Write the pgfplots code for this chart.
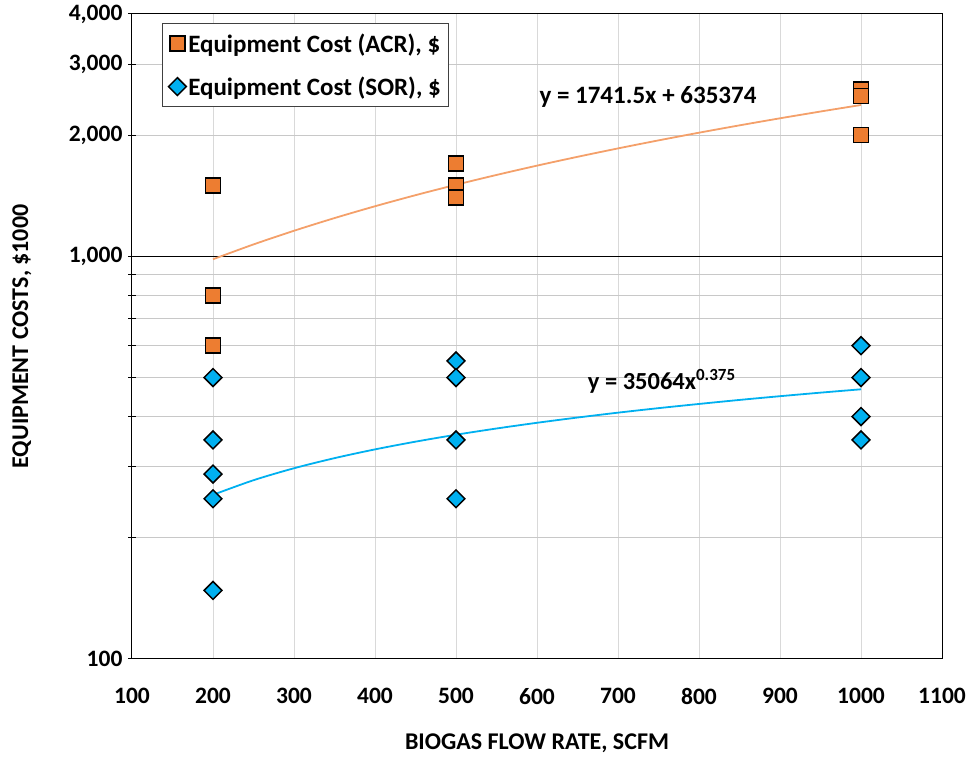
\documentclass[border=0pt]{standalone}
\usepackage{pgfplots}
\pgfplotsset{compat=1.18}
\usepackage{fontspec}
\setmainfont{Carlito}
\definecolor{acr}{HTML}{ED7D31}
\definecolor{acrline}{HTML}{F4A06A}
\definecolor{sor}{HTML}{00B0F0}
\definecolor{gridc}{HTML}{D9D9D9}
\definecolor{hgridc}{HTML}{C8C8C8}
\begin{document}
\begin{tikzpicture}[font=\bfseries]
\useasboundingbox (-132pt,-100pt) rectangle (837pt,659pt);
\begin{axis}[
  at={(0,0)}, anchor=south west,
  scale only axis, width=810pt, height=645pt,
  xmin=100, xmax=1100, ymode=log, ymin=100, ymax=4000,
  xtick={100,200,...,1100},
  ytick={100,1000,2000,3000,4000},
  yticklabels={100,{1,000},{2,000},{3,000},{4,000}},
  minor ytick={200,300,400,500,600,700,800,900},
  xmajorgrids, ymajorgrids, yminorgrids,
  x grid style={gridc, line width=1pt},
  y grid style={hgridc, line width=1pt},
  minor grid style={hgridc, line width=1pt},
  axis line style={black, line width=1pt},
  tick style={black, line width=1pt},
  ytick pos=left,
  tick align=center, major tick length=8pt, minor tick length=8pt,
  xtick style={draw=none},
  /pgf/number format/assume math mode=true,
  xticklabel style={/pgf/number format/1000 sep={}},
  ticklabel style={font=\fontsize{23.5}{26}\selectfont\bfseries},
  xticklabel style={yshift=-22pt},
  yticklabel style={xshift=-2pt},
  xlabel={BIOGAS FLOW RATE, SCFM},
  ylabel={EQUIPMENT COSTS, \$1000},
  label style={font=\fontsize{24}{26}\selectfont\bfseries},
  xlabel style={at={(axis description cs:0.5,0)}, anchor=center, yshift=-84pt},
  ylabel style={at={(axis description cs:-0.1358,0.5)}, anchor=center},
  legend style={at={(0.037,0.986)}, anchor=north west, draw=black!75, line width=1pt,
    font=\fontsize{25}{27}\selectfont\bfseries, row sep=19pt, inner ysep=8pt, inner xsep=6pt,
    /tikz/every even column/.append style={column sep=1pt}},
  legend cell align=left,
  clip=false,
]
\draw[black, line width=1pt] (axis cs:100,1000) -- (axis cs:1100,1000);
\addplot[only marks, mark=square*, mark size=7.5pt, mark options={fill=acr, draw=black, line width=1.5pt}]
  coordinates {(200,1500) (200,800) (200,600) (500,1700) (500,1500) (500,1400) (1000,2600) (1000,2500) (1000,2000)};
\addlegendentry{Equipment Cost (ACR), \$}
\addplot[only marks, mark=square*, mark size=6.3pt, mark options={fill=sor, draw=black, line width=1.5pt, rotate=45}]
  coordinates {(200,500) (200,350) (200,288) (200,250) (200,148) (500,550) (500,500) (500,350) (500,250) (1000,600) (1000,500) (1000,400) (1000,350)};
\addlegendentry{Equipment Cost (SOR), \$}
\addplot[acrline, line width=1.8pt, forget plot, smooth] coordinates {
  (200,983.7) (250,1070.8) (300,1157.8) (350,1244.9) (400,1332.0) (450,1419.1) (500,1506.1)
  (550,1593.2) (600,1680.3) (650,1767.3) (700,1854.4) (750,1941.5) (800,2028.6)
  (850,2115.6) (900,2202.7) (950,2289.8) (1000,2376.9)};
\addplot[sor, line width=1.8pt, forget plot, smooth] coordinates {
  (200,255.7) (250,278.0) (300,297.7) (350,315.4) (400,331.6) (450,346.6) (500,360.6)
  (550,373.7) (600,386.1) (650,397.9) (700,409.1) (750,419.8) (800,430.0)
  (850,440.0) (900,449.5) (950,458.7) (1000,467.6)};
\node[font=\fontsize{25}{27}\selectfont\bfseries] at (axis cs:737,2486) {y = 1741.5x + 635374};
\node[font=\fontsize{24.5}{27}\selectfont\bfseries] at (axis cs:754,489) {y = 35064x\textsuperscript{\fontsize{17}{18}\selectfont 0.375}};
\end{axis}
\end{tikzpicture}
\end{document}
